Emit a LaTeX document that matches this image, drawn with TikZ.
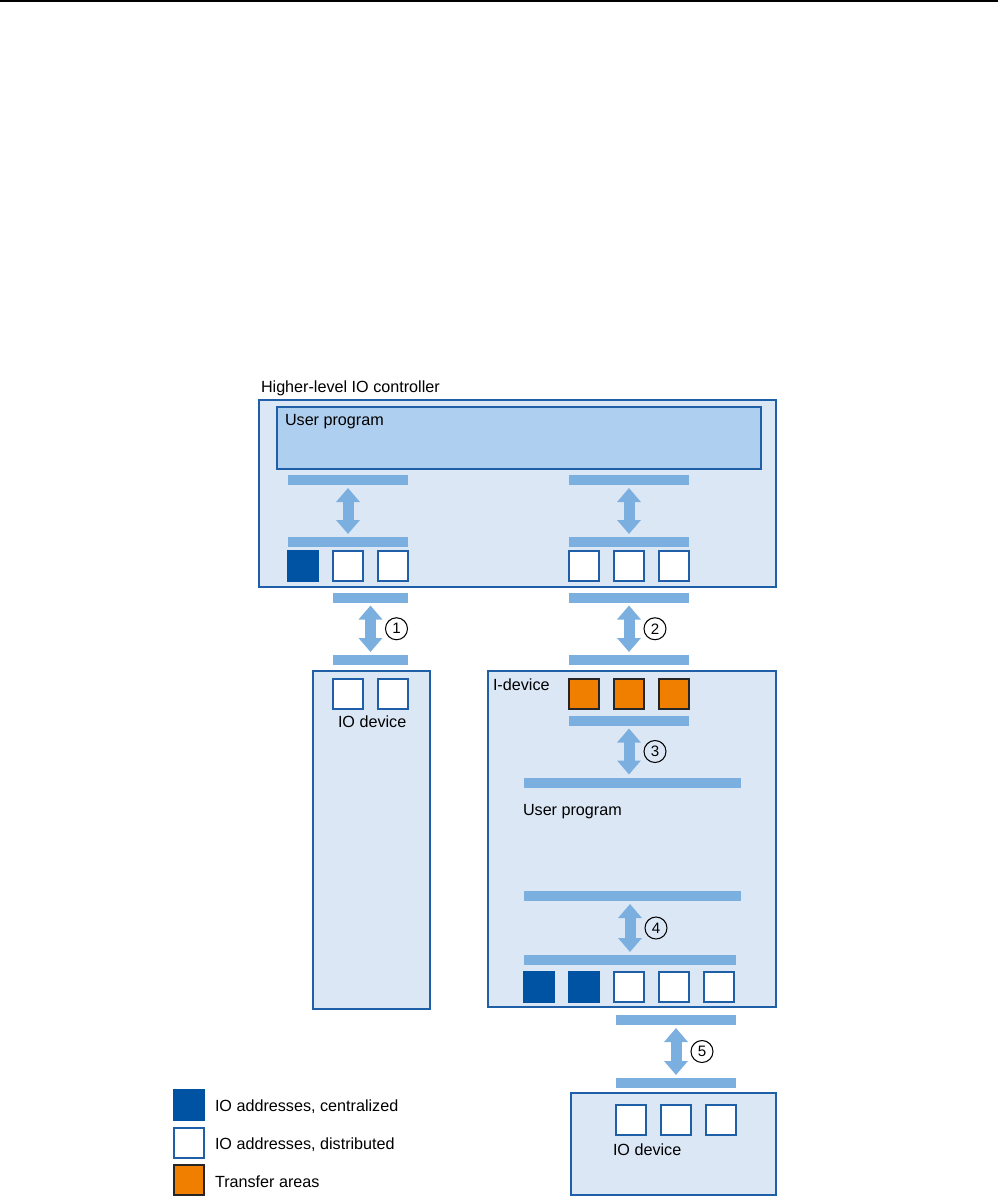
\documentclass[tikz,border=0pt]{standalone}
\usepackage{fontspec}
\setmainfont{Liberation Sans}
\usepackage{xcolor}
\usetikzlibrary{arrows.meta,positioning}

\definecolor{boxfill}{HTML}{DCE7F6}
\definecolor{boxline}{HTML}{1F5FA8}
\definecolor{progfill}{HTML}{AECFEF}
\definecolor{barblue}{HTML}{7AAFDF}
\definecolor{centblue}{HTML}{0052A3}
\definecolor{xferorange}{HTML}{F07F00}

\begin{document}
\begin{tikzpicture}[x=0.02cm, y=-0.02cm, every node/.style={font=\fontsize{9.2pt}{11pt}\selectfont, inner sep=0pt, outer sep=0pt}]
\tikzset{
  unit/.style={draw=boxline, line width=0.9pt, fill=boxfill, anchor=north west},
  progbox/.style={draw=boxline, line width=0.9pt, fill=progfill, anchor=north west},
  bar/.style={fill=barblue, minimum height=0.2cm},
  addr/.style={draw=boxline, line width=0.9pt, fill=white, minimum size=0.6cm},
  central/.style={addr, draw=centblue, fill=centblue},
  xfer/.style={addr, draw=black!85, fill=xferorange},
  dblarrow/.style={draw=barblue, line width=0.22cm, {Triangle[width=0.46cm,length=0.28cm]}-{Triangle[width=0.46cm,length=0.28cm]}, shorten <=0.06cm, shorten >=0.06cm},
  numcirc/.style={draw=black, line width=0.6pt, circle, minimum size=0.44cm, font=\fontsize{8.6pt}{8.6pt}\selectfont}
}
\useasboundingbox (0,0) rectangle (998,1198);
\draw[line width=0.9pt] (0,1) -- (998,1);

% higher-level controller
\node[anchor=base west] (ctrltitle) at (261,392) {Higher-level IO controller};
\node[unit, minimum width=10.34cm, minimum height=3.74cm] (ctrl) at (259,400) {};
\node[progbox, minimum width=9.68cm, minimum height=1.24cm] (ctrlprog) at (277,407) {};
\node[anchor=base west] (ctrlprogtxt) at (285,425) {User program};
\node[bar, minimum width=2.4cm] (cbarL1) at (348,480) {};
\node[bar, minimum width=2.4cm] (cbarR1) at (629,480) {};
\node[bar, minimum width=2.4cm] (cbarL2) at (348,542) {};
\node[bar, minimum width=2.4cm] (cbarR2) at (629,542) {};
\draw[dblarrow] (cbarL1.south) -- (cbarL2.north);
\draw[dblarrow] (cbarR1.south) -- (cbarR2.north);
\node[central] (cL1) at (303,566) {};
\node[addr, right=0.3cm of cL1] (cL2) {};
\node[addr, right=0.3cm of cL2] (cL3) {};
\node[addr] (cR1) at (584,566) {};
\node[addr, right=0.3cm of cR1] (cR2) {};
\node[addr, right=0.3cm of cR2] (cR3) {};

% links to the devices
\node[bar, minimum width=1.5cm] (l1top) at (370.5,597.5) {};
\node[bar, minimum width=1.5cm] (l1bot) at (370.5,660) {};
\draw[dblarrow] (l1top.south) -- node[numcirc, right=0.3cm] (n1) {1} (l1bot.north);
\node[bar, minimum width=2.4cm] (l2top) at (629,597.5) {};
\node[bar, minimum width=2.4cm] (l2bot) at (629,660) {};
\draw[dblarrow] (l2top.south) -- node[numcirc, right=0.3cm] (n2) {2} (l2bot.north);

% IO device (left)
\node[unit, minimum width=2.34cm, minimum height=6.76cm] (iodevL) at (313,671) {};
\node[addr] (dL1) at (348,694) {};
\node[addr, right=0.3cm of dL1] (dL2) {};
\node[anchor=base west] (iodevLtxt) at (338,727) {IO device};

% I-device
\node[unit, minimum width=5.76cm, minimum height=6.72cm] (idev) at (488,671) {};
\node[anchor=base west] (idevtxt) at (493,690) {I-device};
\node[xfer] (t1) at (584,694) {};
\node[xfer, right=0.3cm of t1] (t2) {};
\node[xfer, right=0.3cm of t2] (t3) {};
\node[bar, minimum width=2.4cm] (ibar1) at (629,720.5) {};
\node[bar, minimum width=4.34cm] (ibar2) at (632.5,782.5) {};
\node[anchor=base west] (idevprog) at (523,815) {User program};
\node[bar, minimum width=4.34cm] (ibar3) at (632.5,896) {};
\node[bar, minimum width=4.24cm] (ibar4) at (630,960) {};
\draw[dblarrow] (ibar1.south) -- node[numcirc, right=0.3cm] (n3) {3} (ibar1.south |- ibar2.north);
\draw[dblarrow] (ibar4.north |- ibar3.south) -- node[numcirc, right=0.3cm] (n4) {4} (ibar4.north);
\node[central] (i1) at (539,987) {};
\node[central, right=0.3cm of i1] (i2) {};
\node[addr, right=0.3cm of i2] (i3) {};
\node[addr, right=0.3cm of i3] (i4) {};
\node[addr, right=0.3cm of i4] (i5) {};

% link 5 and IO device (bottom)
\node[bar, minimum width=2.4cm] (l5top) at (676,1020) {};
\node[bar, minimum width=2.4cm] (l5bot) at (676,1083) {};
\draw[dblarrow] (l5top.south) -- node[numcirc, right=0.3cm] (n5) {5} (l5bot.north);
\node[unit, minimum width=4.1cm, minimum height=2.04cm] (iodevB) at (571,1093) {};
\node[addr] (dB1) at (631,1120) {};
\node[addr, right=0.3cm of dB1] (dB2) {};
\node[addr, right=0.3cm of dB2] (dB3) {};
\node[anchor=base west] (iodevBtxt) at (613,1155) {IO device};

% legend
\node[central] (legC) at (189,1105) {};
\node[anchor=base west] (legCtxt) at (215,1111) {IO addresses, centralized};
\node[addr] (legD) at (189,1143) {};
\node[anchor=base west] (legDtxt) at (215,1149) {IO addresses, distributed};
\node[xfer] (legT) at (189,1180) {};
\node[anchor=base west] (legTtxt) at (215,1187) {Transfer areas};
\end{tikzpicture}
\end{document}
